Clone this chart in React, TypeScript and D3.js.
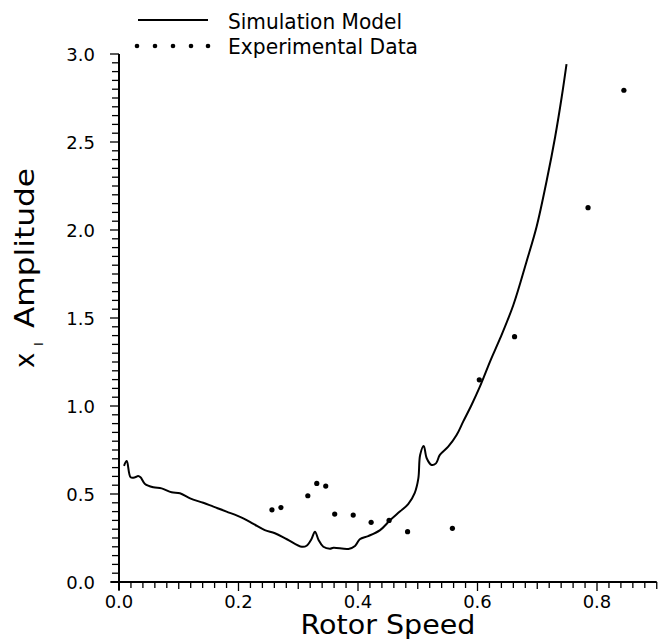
import React from "react";
import * as d3 from "d3";

const simX = [0.0084, 0.013, 0.0195, 0.027, 0.032, 0.036, 0.0435, 0.0575, 0.0713, 0.088, 0.102, 0.119, 0.141, 0.158, 0.18, 0.208, 0.225, 0.244, 0.261, 0.281, 0.306, 0.314, 0.322, 0.328, 0.334, 0.342, 0.353, 0.359, 0.384, 0.395, 0.403, 0.417, 0.437, 0.454, 0.47, 0.484, 0.495, 0.501, 0.504, 0.51, 0.515, 0.523, 0.5305, 0.537, 0.551, 0.565, 0.576, 0.59, 0.604, 0.622, 0.638, 0.66, 0.682, 0.699, 0.716, 0.73, 0.741, 0.749];
const simY = [0.66, 0.687, 0.595, 0.595, 0.602, 0.595, 0.557, 0.538, 0.532, 0.51, 0.504, 0.475, 0.45, 0.428, 0.4, 0.362, 0.33, 0.295, 0.277, 0.243, 0.2, 0.206, 0.243, 0.286, 0.239, 0.2, 0.189, 0.195, 0.188, 0.205, 0.243, 0.261, 0.295, 0.352, 0.4, 0.443, 0.507, 0.589, 0.722, 0.773, 0.703, 0.665, 0.674, 0.722, 0.769, 0.835, 0.911, 1.006, 1.11, 1.261, 1.385, 1.574, 1.82, 2.02, 2.284, 2.53, 2.757, 2.943];

const expX = [0.256, 0.271, 0.316, 0.331, 0.346, 0.361, 0.392, 0.422, 0.452, 0.483, 0.558, 0.603, 0.662, 0.785, 0.845];
const expY = [0.41, 0.423, 0.49, 0.56, 0.545, 0.386, 0.38, 0.339, 0.35, 0.286, 0.305, 1.149, 1.394, 2.127, 2.794];

const xTickLabels = [0, 0.2, 0.4, 0.6, 0.8];
const yTickLabels = [0, 0.5, 1.0, 1.5, 2.0, 2.5, 3.0];

export default function App() {
  const x = d3.scaleLinear().domain([0, 0.9]).range([119, 656.75]);
  const y = d3.scaleLinear().domain([0, 3]).range([582, 54]);
  const font = "'DejaVu Sans', sans-serif";

  const pts: [number, number][] = simX.map((v, i) => [v, simY[i]]);
  const line = d3
    .line<[number, number]>()
    .x((d) => x(d[0]))
    .y((d) => y(d[1]))
    .curve(d3.curveCatmullRom.alpha(0.5));

  const xMinor = d3.range(0, 46).map((i) => i * 0.02).filter((v) => v <= 0.9001);
  const yMinor = d3.range(0, 61).map((i) => i * 0.05);

  return (
    <svg width={660} height={639} style={{ position: "absolute", left: 0, top: 0, background: "#fff" }}>
      <rect x={0} y={0} width={660} height={639} fill="#fff" />
      {/* legend */}
      <line x1={138} x2={208} y1={20} y2={20} stroke="#000" strokeWidth={2} />
      <text x={228} y={29} fontFamily={font} fontSize={21} fill="#000" textLength={174} lengthAdjust="spacingAndGlyphs">Simulation Model</text>
      {[137, 155, 173, 191, 208].map((cx, i) => (
        <circle key={i} cx={cx} cy={46} r={2.3} fill="#000" />
      ))}
      <text x={228} y={54} fontFamily={font} fontSize={21} fill="#000" textLength={190} lengthAdjust="spacingAndGlyphs">Experimental Data</text>

      {/* axes */}
      <line x1={x(0)} x2={x(0)} y1={y(3)} y2={590} stroke="#000" strokeWidth={2} />
      <line x1={111} x2={x(0.9)} y1={y(0)} y2={y(0)} stroke="#000" strokeWidth={2} />
      {yMinor.map((v, i) => {
        const major = i % 10 === 0;
        return (
          <line key={"yt" + i} x1={x(0) - (major ? 9 : 7)} x2={x(0)} y1={y(v)} y2={y(v)} stroke="#000" strokeWidth={1.3} />
        );
      })}
      {xMinor.map((v, i) => {
        const major = i % 10 === 0;
        const mid = i % 5 === 0;
        return (
          <line key={"xt" + i} x1={x(v)} x2={x(v)} y1={y(0)} y2={y(0) + (major ? 9 : mid ? 7 : 6)} stroke="#000" strokeWidth={1.3} />
        );
      })}
      {yTickLabels.map((v) => (
        <text key={"yl" + v} x={95} y={y(v) + 6.5} textAnchor="end" fontFamily={font} fontSize={18} fill="#000">
          {v.toFixed(1)}
        </text>
      ))}
      {xTickLabels.map((v) => (
        <text key={"xl" + v} x={x(v)} y={608} textAnchor="middle" fontFamily={font} fontSize={18} fill="#000">
          {v.toFixed(1)}
        </text>
      ))}
      <text x={388} y={634} textAnchor="middle" fontFamily={font} fontSize={26} fill="#000" textLength={175} lengthAdjust="spacingAndGlyphs">Rotor Speed</text>
      <text transform="translate(34,368) rotate(-90)" fontFamily={font} fontSize={26} fill="#000">x</text>
      <text transform="translate(43,346) rotate(-90)" fontFamily={font} fontSize={13} fill="#000">I</text>
      <text transform="translate(34,328) rotate(-90)" fontFamily={font} fontSize={26} fill="#000" textLength={160} lengthAdjust="spacingAndGlyphs">Amplitude</text>

      {/* simulation curve */}
      <path d={line(pts) || ""} fill="none" stroke="#000" strokeWidth={2} />
      {/* experimental points */}
      {expX.map((v, i) => (
        <circle key={"p" + i} cx={x(v)} cy={y(expY[i])} r={2.6} fill="#000" />
      ))}
    </svg>
  );
}
